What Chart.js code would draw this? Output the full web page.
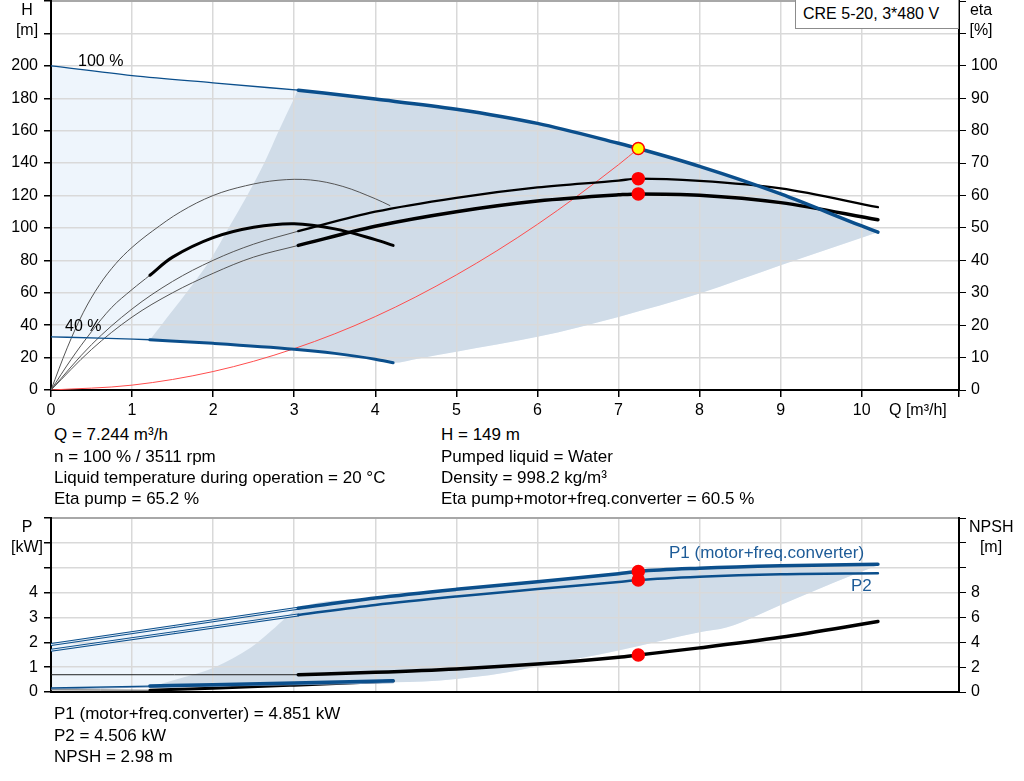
<!DOCTYPE html>
<html>
<head>
<meta charset="utf-8">
<script src="https://cdn.jsdelivr.net/npm/chart.js@4.4.1/dist/chart.umd.min.js"></script>
<style>
  body { margin: 0; background: #fff; font-family: "Liberation Sans", Arial, sans-serif; color: #000; }
  #page { position: relative; width: 1024px; height: 781px; overflow: hidden; }
  .wrap { position: absolute; }
  .t { position: absolute; white-space: nowrap; font-size: 16px; line-height: 16px; }
  .i { position: absolute; white-space: nowrap; font-size: 17px; line-height: 17px; }
  .c { width: 40px; text-align: center; }
  .blue { color: #1d5b97; }
  #model { position: absolute; left: 795px; top: 0; width: 164px; height: 29px; box-sizing: border-box;
           border: 1px solid #8c8c8c; border-top: none; background: #fff; font-size: 16px; line-height: 16px; padding: 6px 0 0 7px; }
</style>
</head>
<body>
<div id="page">
  <div class="wrap" style="left:0;top:0;width:1024px;height:420px"><canvas id="qh"></canvas></div>
  <div class="wrap" style="left:0;top:505px;width:1024px;height:200px"><canvas id="pw"></canvas></div>

  <div id="model">CRE 5-20, 3*480 V</div>
  <div class="t c" style="left:7px;top:2px">H</div>
  <div class="t c" style="left:7px;top:22px">[m]</div>
  <div class="t c" style="left:961px;top:2px">eta</div>
  <div class="t c" style="left:961px;top:22px">[%]</div>
  <div class="t" style="left:78px;top:53px">100 %</div>
  <div class="t" style="left:65px;top:318px">40 %</div>
  <div class="t" style="left:889px;top:402px">Q [m³/h]</div>

  <div class="i" style="left:54px;top:426px">Q = 7.244 m³/h</div>
  <div class="i" style="left:54px;top:448px">n = 100 % / 3511 rpm</div>
  <div class="i" style="left:54px;top:469px">Liquid temperature during operation = 20 °C</div>
  <div class="i" style="left:54px;top:490px">Eta pump = 65.2 %</div>
  <div class="i" style="left:441px;top:426px">H = 149 m</div>
  <div class="i" style="left:441px;top:448px">Pumped liquid = Water</div>
  <div class="i" style="left:441px;top:469px">Density = 998.2 kg/m³</div>
  <div class="i" style="left:441px;top:490px">Eta pump+motor+freq.converter = 60.5 %</div>

  <div class="t c" style="left:7px;top:519px">P</div>
  <div class="t c" style="left:7px;top:539px">[kW]</div>
  <div class="t" style="left:969px;top:519px">NPSH</div>
  <div class="t c" style="left:971px;top:539px">[m]</div>
  <div class="i blue" style="left:669px;top:544px">P1 (motor+freq.converter)</div>
  <div class="i blue" style="left:851px;top:577px">P2</div>

  <div class="i" style="left:54px;top:705px">P1 (motor+freq.converter) = 4.851 kW</div>
  <div class="i" style="left:54px;top:727px">P2 = 4.506 kW</div>
  <div class="i" style="left:54px;top:748px">NPSH = 2.98 m</div>
</div>

<script>
// ---- head / efficiency (Q in m³/h, H in m, eta in %) ----
var qhThinQ = [0, 1, 2, 3.05];
var qhThinH = [200, 194, 189.5, 185];
var qhQ = [3.05, 4, 5, 6, 7, 7.244, 8, 9, 10, 10.2];
var qhH = [185, 179.5, 173.2, 164.5, 152.2, 149, 138, 121, 101.2, 97.4];
var qh40ThinQ = [0, 0.6, 1.22];
var qh40ThinH = [32.8, 32, 31];
var qh40Q = [1.22, 2, 3, 3.5, 4, 4.22];
var qh40H = [31, 28.8, 25.2, 22.6, 19, 16.8];

var etaPumpThinQ = [0, 0.5, 1, 1.5, 2, 2.5, 3.05];
var etaPumpThin = [0, 14, 25, 33.5, 40, 45, 49];
var etaPumpQ = [3.05, 4, 5, 6, 7, 7.244, 8, 9, 10.2];
var etaPump = [49, 55, 59.3, 62.5, 64.6, 65.2, 64.5, 62.2, 56.4];
var etaTotThinQ = [0, 0.5, 1, 1.5, 2, 2.5, 3.05];
var etaTotThin = [0, 12.5, 22.5, 30, 36, 41, 44.6];
var etaTotQ = [3.05, 4, 5, 6, 7, 7.244, 8, 9, 10.2];
var etaTot = [44.6, 50.5, 55, 58.3, 60.2, 60.5, 60.1, 57.8, 52.5];

var etaPump40Q = [0, 0.2, 0.4, 0.6, 0.8, 1, 1.25, 1.6, 2, 2.4, 2.8, 3.2, 3.6, 4, 4.18];
var etaPump40 = [0, 13, 24, 32.5, 39, 44, 49, 55, 60, 63, 64.7, 64.8, 62.8, 59, 56.9];
var etaTot40ThinQ = [0, 0.25, 0.5, 0.75, 1, 1.22];
var etaTot40Thin = [0, 9.5, 18, 25.5, 31, 35.4];
var etaTot40Q = [1.22, 1.5, 2, 2.5, 3, 3.5, 4, 4.22];
var etaTot40 = [35.4, 41, 47, 50.2, 51.3, 49.7, 46.4, 44.6];

var systemQ = [0, 1, 2, 3, 4, 5, 6, 7, 7.244];
var systemH = [0, 3, 11.4, 25.5, 45.3, 71, 102.2, 139, 149];

var rangeLeftQ = [1.22, 1.36, 1.67, 1.96, 2.19, 2.42, 2.63, 2.81, 3.0];
var rangeLeftH = [31, 40, 60, 80, 100, 120, 140, 160, 180];
var rangeLowQ = [4.22, 4.54, 5, 6, 7, 8, 9, 10.2];
var rangeLowH = [16.8, 19.5, 23.6, 32.8, 45.1, 59.5, 76.9, 97.4];

// ---- power / NPSH (P in kW, NPSH in m) ----
var p1ThinQ = [0, 3.05];
var p1Thin = [1.91, 3.37];
var p1Q = [3.05, 4, 5, 6, 7, 7.244, 8, 9, 10.2];
var p1 = [3.37, 3.78, 4.13, 4.44, 4.76, 4.851, 4.98, 5.08, 5.14];
var p2ThinQ = [0, 3.05];
var p2Thin = [1.68, 3.1];
var p2Q = [3.05, 4, 5, 6, 7, 7.244, 8, 9, 10.2];
var p2 = [3.1, 3.5, 3.84, 4.14, 4.43, 4.506, 4.64, 4.74, 4.78];
var npshThinQ = [0, 3.05];
var npshThin = [1.39, 1.39];
var npshQ = [3.05, 4, 5, 6, 7, 7.244, 8, 9, 10.2];
var npsh = [1.39, 1.58, 1.85, 2.25, 2.8, 2.98, 3.55, 4.4, 5.67];

var p1s40ThinQ = [0, 1.22];
var p1s40Thin = [0.16, 0.24];
var p1s40Q = [1.22, 2, 3, 4.22];
var p1s40 = [0.24, 0.29, 0.36, 0.45];
var p2s40ThinQ = [0, 1.22];
var p2s40Thin = [0.12, 0.2];
var p2s40Q = [1.22, 2, 3, 4.22];
var p2s40 = [0.2, 0.25, 0.31, 0.39];
var npsh40ThinQ = [0, 1.22];
var npsh40Thin = [0.18, 0.14];
var npsh40Q = [1.22, 2, 3, 4.22];
var npsh40 = [0.14, 0.3, 0.55, 0.88];

var pRangeLeftQ = [1.22, 1.65, 2.02, 2.47, 2.72, 2.9];
var pRangeLeft = [0.2, 0.6, 1.0, 1.8, 2.47, 3.0];
var pRangeLowQ = [4.22, 4.6, 5, 5.54, 6, 7, 8, 8.34, 9, 9.66, 10.2];
var pRangeLow = [0.39, 0.42, 0.52, 0.74, 1.03, 1.67, 2.4, 2.6, 3.5, 4.41, 5.1];

// duty point
var dutyQ = 7.244, dutyH = 149, dutyEtaPump = 65.2, dutyEtaTot = 60.5;
var dutyP1 = 4.851, dutyP2 = 4.506, dutyNpsh = 2.98;

var BLUE = '#0b4f8c';
var GRID = '#d9d9d9';
var DARK = '#d0dce8';
var LIGHT = '#eef5fc';

Chart.defaults.font.family = '"Liberation Sans", Arial, sans-serif';
Chart.defaults.font.size = 16;
Chart.defaults.color = '#000';

function pts(q, v) {
  return q.map(function (x, i) { return { x: x, y: v[i] }; });
}
function curve(q, v, color, width, axis) {
  return { data: pts(q, v), borderColor: color, borderWidth: width, pointRadius: 0, fill: false,
    cubicInterpolationMode: 'monotone', borderCapStyle: 'round', yAxisID: axis || 'y' };
}
// smooth arc (no flattening at the peak)
function arc(q, v, color, width, axis) {
  var d = curve(q, v, color, width, axis);
  d.cubicInterpolationMode = 'default';
  d.tension = 0.35;
  return d;
}
function dot(q, v, color, axis) {
  return { data: [{ x: q, y: v }], showLine: false, pointRadius: 6, pointBackgroundColor: color,
    pointBorderColor: '#ff0000', pointBorderWidth: 1.5, yAxisID: axis || 'y' };
}
function area(q, v, color) {
  return { data: pts(q, v), borderColor: 'rgba(0,0,0,0)', borderWidth: 0, pointRadius: 0,
    fill: '+1', backgroundColor: color, cubicInterpolationMode: 'monotone' };
}
function edge(q, v) {
  return { data: pts(q, v), borderColor: 'rgba(0,0,0,0)', borderWidth: 0, pointRadius: 0,
    fill: false, cubicInterpolationMode: 'monotone' };
}

function scales(o) {
  return {
    x: {
      type: 'linear', position: 'bottom', min: 0, max: 11.2,
      ticks: { stepSize: 1, display: o.xLabels, padding: 4, maxRotation: 0, autoSkip: false,
        callback: function (v) { return v <= 10 ? v : ''; } },
      grid: { color: GRID, lineWidth: 1.5, tickColor: '#000', tickLength: 7, drawTicks: o.xLabels },
      border: { color: '#000', width: 2 },
      afterFit: function (s) { s.height = o.xh; s.paddingLeft = 0; s.paddingRight = 0; }
    },
    xt: {
      type: 'linear', position: 'top', min: 0, max: 11.2,
      ticks: { display: false }, grid: { display: false, drawTicks: false },
      border: { color: '#a8a8a8', width: 2 },
      afterFit: function (s) { s.height = o.th; s.paddingLeft = 0; s.paddingRight = 0; }
    },
    y: {
      position: 'left', min: 0, max: o.yMax,
      ticks: { stepSize: o.yStep, padding: 6, autoSkip: false,
        callback: function (v) { return v <= o.yLab ? v : ''; } },
      grid: { color: GRID, lineWidth: 1.5, tickColor: '#000', tickLength: 7 },
      border: { color: '#000', width: 2 },
      afterFit: function (s) { s.width = 51; s.paddingTop = 0; s.paddingBottom = 0; }
    },
    y2: {
      position: 'right', min: 0, max: o.y2Max,
      ticks: { stepSize: o.y2Step, padding: 5, autoSkip: false,
        callback: function (v) { return v <= o.y2Lab ? v : ''; } },
      grid: { drawOnChartArea: false, tickColor: '#000', tickLength: 7 },
      border: { color: '#000', width: 2 },
      afterFit: function (s) { s.width = 65; s.paddingTop = 0; s.paddingBottom = 0; }
    }
  };
}

function options(o) {
  return {
    responsive: true,
    maintainAspectRatio: false,
    animation: false,
    events: [],
    layout: { padding: 0, autoPadding: false },
    elements: { point: { radius: 0 } },
    plugins: { legend: { display: false }, tooltip: { enabled: false }, filler: { drawTime: 'beforeDraw' } },
    scales: scales(o)
  };
}

new Chart(document.getElementById('qh'), {
  type: 'line',
  data: {
    datasets: [
      dot(dutyQ, dutyH, '#ffff00'),
      dot(dutyQ, dutyEtaPump, '#ff0000', 'y2'),
      dot(dutyQ, dutyEtaTot, '#ff0000', 'y2'),
      curve(qhQ, qhH, BLUE, 3.5),
      curve(qhThinQ, qhThinH, BLUE, 1.3),
      curve(qh40Q, qh40H, BLUE, 3),
      curve(qh40ThinQ, qh40ThinH, BLUE, 1.3),
      curve(etaPumpQ, etaPump, '#000', 2.3, 'y2'),
      arc(etaPumpThinQ, etaPumpThin, '#555', 1, 'y2'),
      curve(etaTotQ, etaTot, '#000', 3.5, 'y2'),
      arc(etaTotThinQ, etaTotThin, '#555', 1, 'y2'),
      arc(etaPump40Q, etaPump40, '#555', 1, 'y2'),
      arc(etaTot40Q, etaTot40, '#000', 3, 'y2'),
      arc(etaTot40ThinQ, etaTot40Thin, '#555', 1, 'y2'),
      curve(systemQ, systemH, '#ff4d4d', 1),
      area(rangeLeftQ.concat(qhQ), rangeLeftH.concat(qhH), DARK),
      edge(qh40Q.concat(rangeLowQ.slice(1)), qh40H.concat(rangeLowH.slice(1))),
      area(qhThinQ.slice(0, -1).concat(qhQ), qhThinH.slice(0, -1).concat(qhH), LIGHT),
      edge(qh40ThinQ.slice(0, -1).concat(qh40Q, rangeLowQ.slice(1)),
           qh40ThinH.slice(0, -1).concat(qh40H, rangeLowH.slice(1)))
    ]
  },
  options: options({ xLabels: true, xh: 30, th: 1, yMax: 240, yStep: 20, yLab: 200, y2Max: 120, y2Step: 10, y2Lab: 100 })
});

new Chart(document.getElementById('pw'), {
  type: 'line',
  data: {
    datasets: [
      dot(dutyQ, dutyP1, '#ff0000'),
      dot(dutyQ, dutyP2, '#ff0000'),
      dot(dutyQ, dutyNpsh, '#ff0000', 'y2'),
      curve(p1Q, p1, BLUE, 3.5),
      curve(p1ThinQ, p1Thin, '#e2ecf6', 1),
      curve(p1ThinQ, p1Thin, BLUE, 3),
      curve(p2Q, p2, BLUE, 2.5),
      curve(p2ThinQ, p2Thin, '#e2ecf6', 1),
      curve(p2ThinQ, p2Thin, BLUE, 3),
      curve(npshQ, npsh, '#000', 3.5, 'y2'),
      curve(npshThinQ, npshThin, '#222', 1, 'y2'),
      curve(p1s40Q, p1s40, BLUE, 3.5),
      curve(p1s40ThinQ, p1s40Thin, BLUE, 1.3),
      curve(p2s40Q, p2s40, '#7f9cbf', 2),
      curve(p2s40ThinQ, p2s40Thin, '#7f9cbf', 1),
      curve(npsh40Q, npsh40, '#000', 3, 'y2'),
      curve(npsh40ThinQ, npsh40Thin, '#555', 1, 'y2'),
      area(pRangeLeftQ.concat(p1Q), pRangeLeft.concat(p1), DARK),
      edge(p2s40Q.concat(pRangeLowQ.slice(1)), p2s40.concat(pRangeLow.slice(1))),
      area(p1ThinQ.slice(0, -1).concat(p1Q), p1Thin.slice(0, -1).concat(p1), LIGHT),
      edge(p2s40ThinQ.slice(0, -1).concat(p2s40Q, pRangeLowQ.slice(1)),
           p2s40Thin.slice(0, -1).concat(p2s40, pRangeLow.slice(1)))
    ]
  },
  options: options({ xLabels: false, xh: 13, th: 13, yMax: 7, yStep: 1, yLab: 4, y2Max: 14, y2Step: 2, y2Lab: 8 })
});
</script>
</body>
</html>
